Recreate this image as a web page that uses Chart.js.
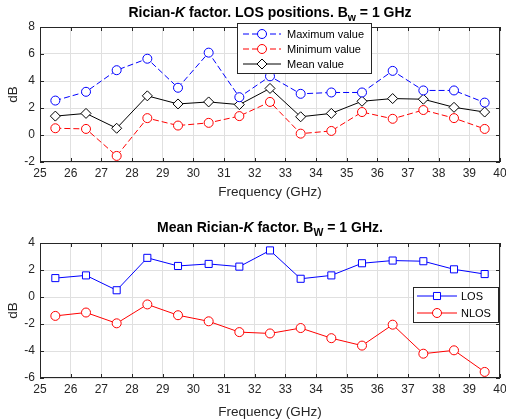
<!DOCTYPE html>
<html>
<head>
<meta charset="utf-8">
<script src="https://cdn.jsdelivr.net/npm/chart.js@4/dist/chart.umd.min.js"></script>
<style>
  body { margin: 0; background: #fff; font-family: "Liberation Sans", Arial, sans-serif; }
  #wrap { position: relative; width: 506px; height: 420px; overflow: hidden; }
  .panel { position: absolute; left: 0; }
  .title { position: absolute; left: 0; width: 540px; text-align: center; font-weight: bold;
           font-size: 14px; line-height: 16px; color: #000; white-space: nowrap; }
  .title sub { font-size: 10.5px; line-height: 0; vertical-align: -4px; }
</style>
</head>
<body>
<div id="wrap">
  <canvas id="topChart" class="panel" width="506" height="200" style="top:0"></canvas>
  <canvas id="bottomChart" class="panel" width="506" height="220" style="top:200px"></canvas>
  <div class="title" style="top:4px">Rician-<i>K</i> factor. LOS positions. B<sub>w</sub> = 1 GHz</div>
  <div class="title" style="top:219px">Mean Rician-<i>K</i> factor. B<sub>W</sub> = 1 GHz.</div>
</div>
<script>
// Data
const freq = [25.5, 26.5, 27.5, 28.5, 29.5, 30.5, 31.5, 32.5, 33.5, 34.5, 35.5, 36.5, 37.5, 38.5, 39.5];
const maxVal = [2.55, 3.2, 4.8, 5.65, 3.5, 6.1, 2.8, 4.35, 3.05, 3.15, 3.15, 4.75, 3.3, 3.3, 2.4];
const minVal = [0.5, 0.45, -1.55, 1.25, 0.7, 0.9, 1.4, 2.45, 0.1, 0.3, 1.7, 1.2, 1.85, 1.25, 0.45];
const meanVal = [1.4, 1.6, 0.5, 2.9, 2.3, 2.45, 2.25, 3.45, 1.35, 1.6, 2.5, 2.7, 2.65, 2.05, 1.7];
const losMean = [1.4, 1.6, 0.5, 2.9, 2.3, 2.45, 2.25, 3.45, 1.35, 1.6, 2.5, 2.7, 2.65, 2.05, 1.7];
const nlosMean = [-1.4, -1.15, -1.95, -0.55, -1.35, -1.8, -2.6, -2.7, -2.3, -3.05, -3.6, -2.05, -4.2, -3.95, -5.55];

const GRID = '#e0e0e0';
const AXIS = '#262626';

function pts(ys) {
    return freq.map((f, i) => ({ x: f, y: ys[i] }));
}

function series(label, ys, color, style, radius, dashed) {
    return {
        label: label, data: pts(ys),
        borderColor: color, backgroundColor: '#ffffff',
        borderWidth: 1, borderDash: dashed ? [6, 3] : [],
        pointStyle: style, pointRadius: radius, pointBorderWidth: 1,
        pointBorderColor: color, pointBackgroundColor: '#ffffff',
        tension: 0
    };
}

// --- frame, inward ticks and MATLAB-style legend ---
const framePlugin = {
    id: 'frame',
    afterDatasetsDraw(chart, args, opts) {
        const { ctx, chartArea: a, scales } = chart;
        ctx.save();
        ctx.strokeStyle = AXIS;
        ctx.lineWidth = 1;
        ctx.setLineDash([]);
        ctx.beginPath();
        scales.x.ticks.forEach(t => {
            const px = Math.round(scales.x.getPixelForValue(t.value)) + 0.5;
            ctx.moveTo(px, a.bottom); ctx.lineTo(px, a.bottom - 4);
            ctx.moveTo(px, a.top); ctx.lineTo(px, a.top + 4);
        });
        scales.y.ticks.forEach(t => {
            const py = Math.round(scales.y.getPixelForValue(t.value)) + 0.5;
            ctx.moveTo(a.left, py); ctx.lineTo(a.left + 4, py);
            ctx.moveTo(a.right, py); ctx.lineTo(a.right - 4, py);
        });
        ctx.stroke();
        ctx.strokeRect(Math.round(a.left) + 0.5, Math.round(a.top) + 0.5,
                       Math.round(a.width) - 1, Math.round(a.height) - 1);

        // legend
        const lg = opts.legend;
        if (lg) {
            ctx.fillStyle = '#ffffff';
            ctx.fillRect(lg.x, lg.y, lg.w, lg.h);
            ctx.strokeStyle = AXIS;
            ctx.strokeRect(lg.x + 0.5, lg.y + 0.5, lg.w, lg.h);
            ctx.font = '11px "Liberation Sans", Arial, sans-serif';
            ctx.textBaseline = 'middle';
            chart.data.datasets.forEach((ds, i) => {
                const cy = lg.y + lg.first + i * lg.row;
                ctx.strokeStyle = ds.borderColor;
                ctx.setLineDash(ds.borderDash);
                ctx.beginPath();
                ctx.moveTo(lg.x + lg.line0, cy);
                ctx.lineTo(lg.x + lg.line1, cy);
                ctx.stroke();
                ctx.setLineDash([]);
                ctx.fillStyle = '#ffffff';
                Chart.helpers.drawPoint(ctx, { pointStyle: ds.pointStyle, radius: ds.pointRadius, borderWidth: 1, rotation: 0 },
                    lg.x + (lg.line0 + lg.line1) / 2, cy);
                ctx.fillStyle = '#000000';
                ctx.fillText(ds.label, lg.x + lg.text, cy + 0.5);
            });
        }
        ctx.restore();
    }
};

function createOptions(yMin, yMax, padTop, xHeight, legend) {
    const tickFont = { family: '"Liberation Sans", Arial, sans-serif', size: 12 };
    const titleFont = { family: '"Liberation Sans", Arial, sans-serif', size: 13.5 };
    return {
        responsive: false,
        animation: false,
        events: [],
        layout: { padding: { top: padTop, right: 6, left: 0, bottom: 0 } },
        plugins: { legend: { display: false }, tooltip: { enabled: false }, frame: { legend: legend } },
        scales: {
            x: {
                type: 'linear', min: 25, max: 40,
                ticks: { stepSize: 1, color: AXIS, font: tickFont, padding: 4, maxRotation: 0, autoSkip: false },
                grid: { color: GRID, drawTicks: false },
                border: { display: false },
                title: { display: true, text: 'Frequency (GHz)', color: AXIS, font: titleFont, padding: { top: 0, bottom: 0 } },
                afterFit: s => { s.height = xHeight; s.paddingLeft = 0; s.paddingRight = 0; }
            },
            y: {
                min: yMin, max: yMax,
                ticks: { stepSize: 2, color: AXIS, font: tickFont, padding: 5 },
                grid: { color: GRID, drawTicks: false },
                border: { display: false },
                title: { display: true, text: 'dB', color: AXIS, font: titleFont, padding: { top: 5, bottom: 0 } },
                afterFit: s => { s.width = 40; s.paddingTop = 0; s.paddingBottom = 0; }
            }
        }
    };
}

// --- CHARTS ---
const topChart = new Chart(document.getElementById('topChart').getContext('2d'), {
    type: 'line',
    data: {
        datasets: [
            series('Maximum value', maxVal, '#0000ff', 'circle', 4.5, true),
            series('Minimum value', minVal, '#ff0000', 'circle', 4.5, true),
            series('Mean value', meanVal, '#000000', 'rectRot', 5, false)
        ]
    },
    options: createOptions(-2, 8, 27, 38, { x: 237, y: 23, w: 134, h: 50, first: 11, row: 15, line0: 6, line1: 44, text: 50 }),
    plugins: [framePlugin]
});

const bottomChart = new Chart(document.getElementById('bottomChart').getContext('2d'), {
    type: 'line',
    data: {
        datasets: [
            series('LOS', losMean, '#0000ff', 'rect', 5, false),
            series('NLOS', nlosMean, '#ff0000', 'circle', 4.5, false)
        ]
    },
    options: createOptions(-6, 4, 43, 42, { x: 413, y: 87, w: 85, h: 35, first: 9, row: 17, line0: 4, line1: 44, text: 48 }),
    plugins: [framePlugin]
});
</script>
</body>
</html>
